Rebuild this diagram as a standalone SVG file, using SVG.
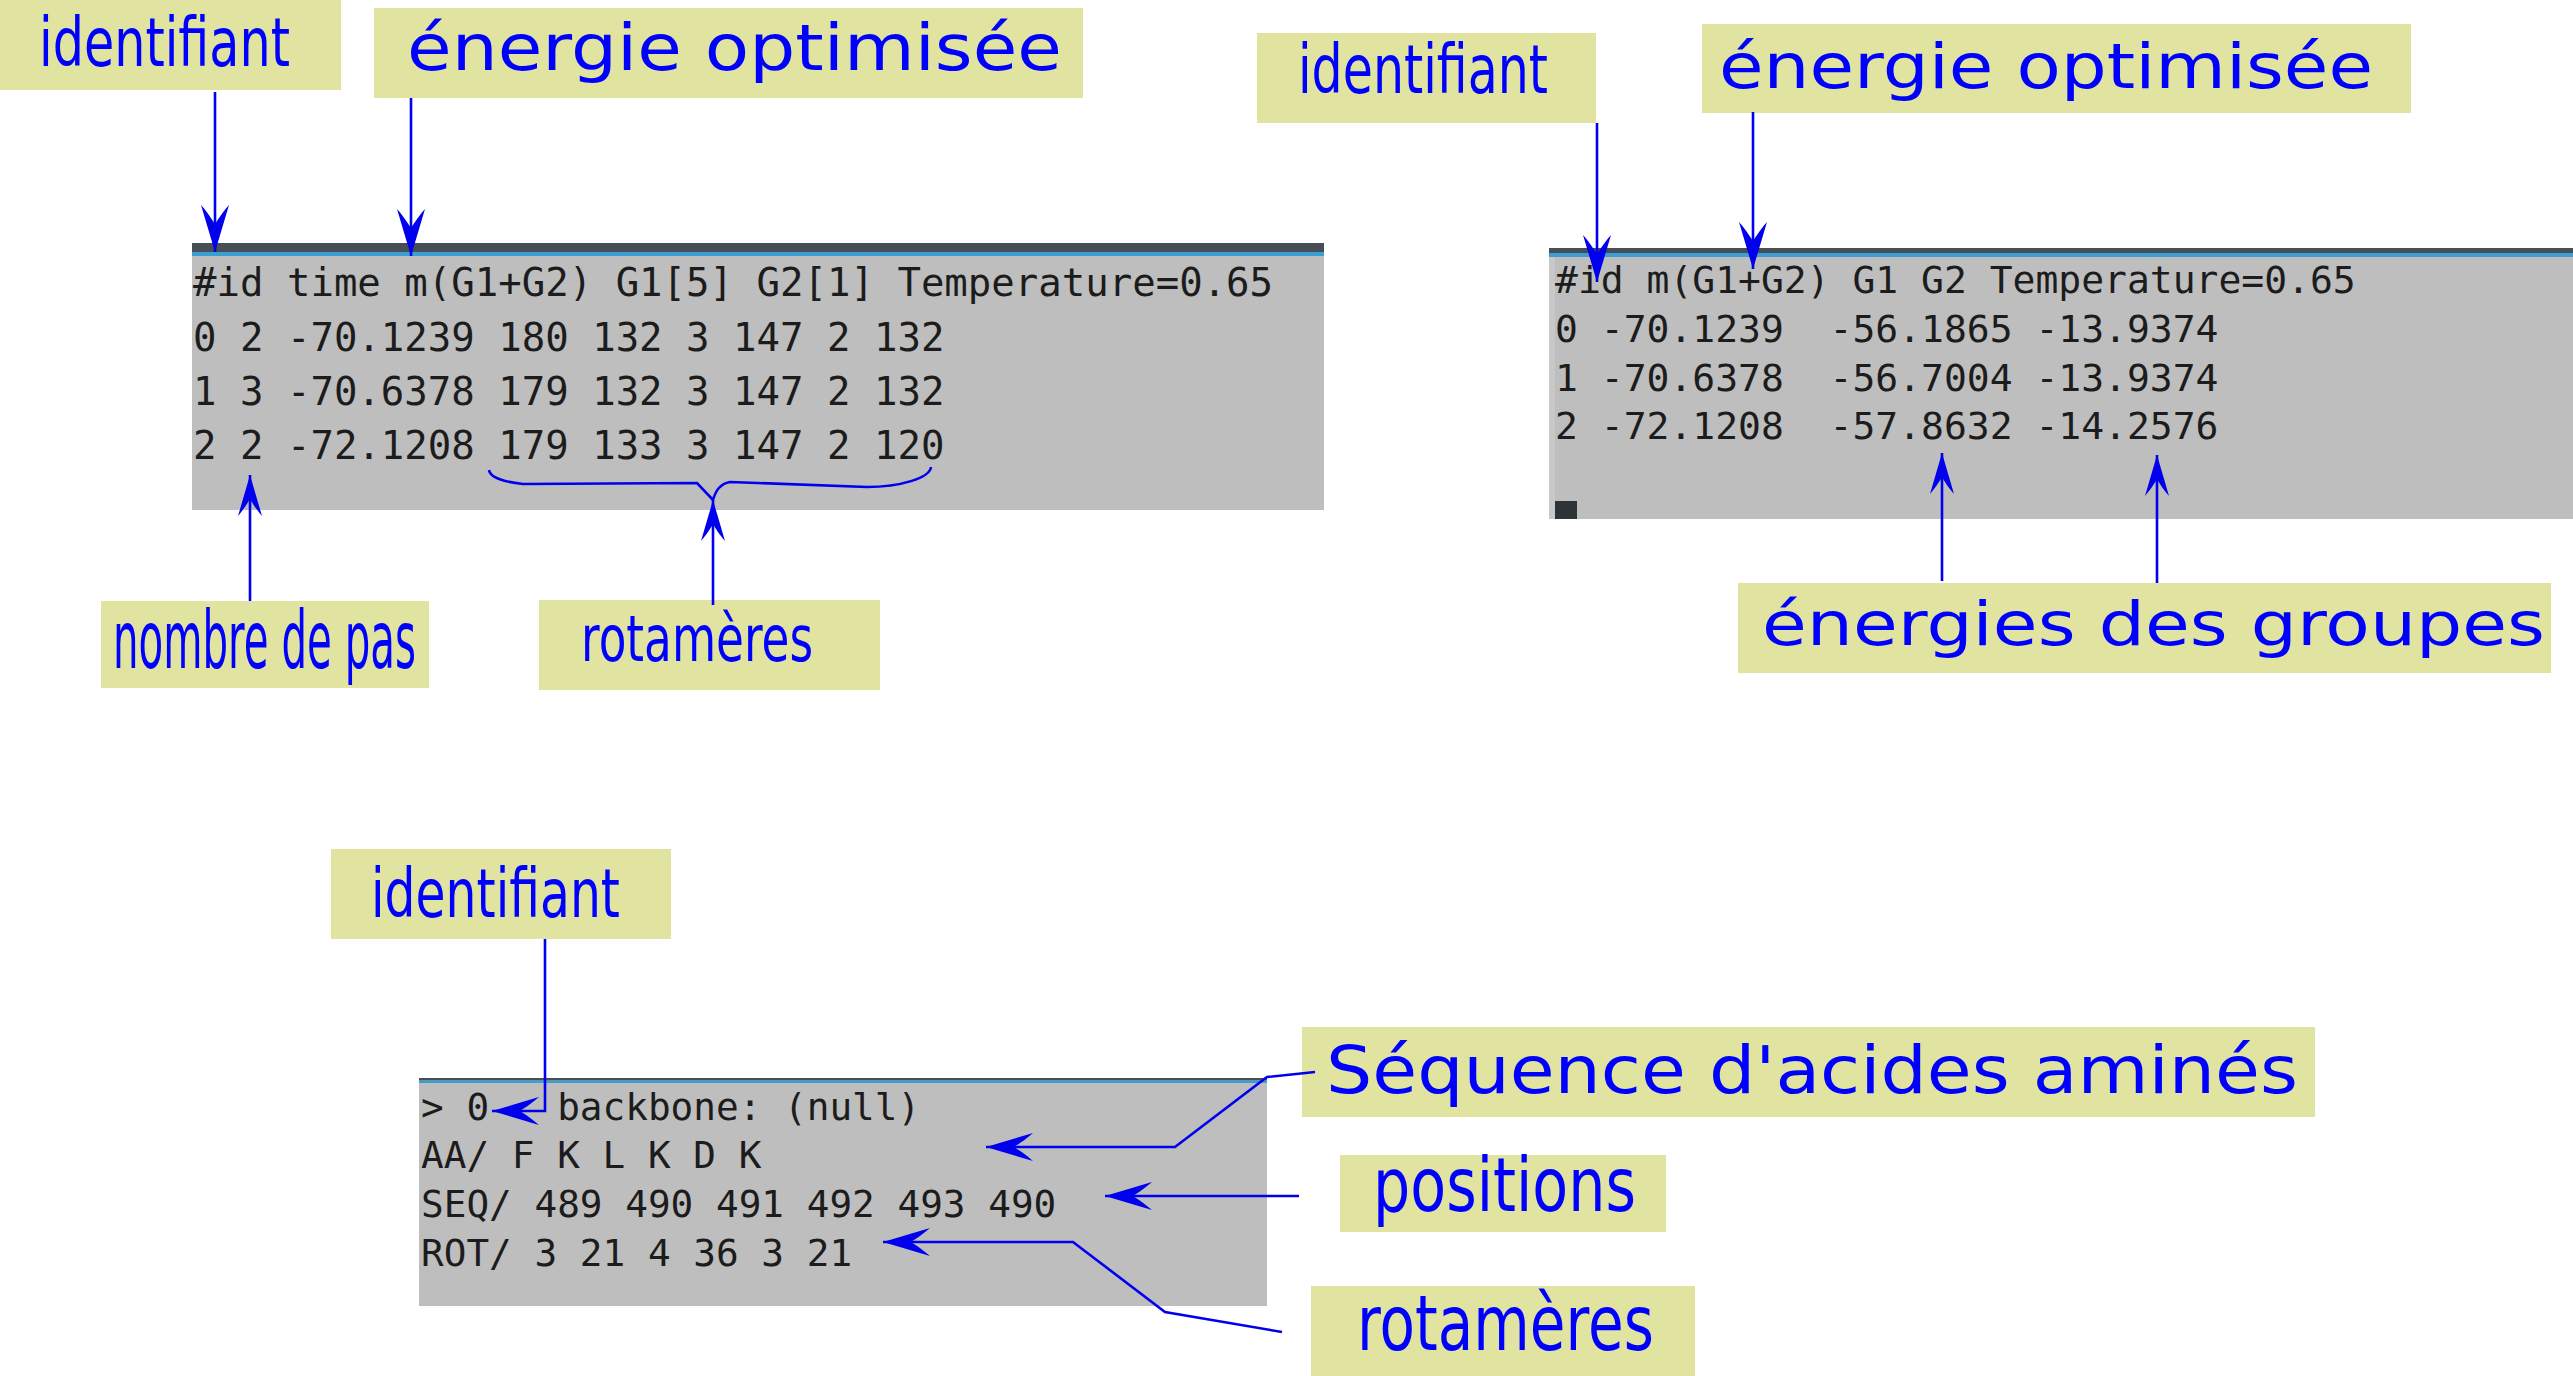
<svg xmlns="http://www.w3.org/2000/svg" width="2573" height="1376" viewBox="0 0 2573 1376">
<style>
.lab{fill:#e1e3a0}
.lt{font-family:"DejaVu Sans","Liberation Sans",sans-serif;fill:#0000ff}
.mono{font-family:"DejaVu Sans Mono","Liberation Mono",monospace;fill:#1c1c1c;white-space:pre}
.term{fill:#bebebe}
.bar{fill:#474e55}
.blu{fill:#3c9fd2}
.con{stroke:#0000ee;stroke-width:2.6;fill:none}
.big{marker-end:url(#ah)}
.sm{marker-end:url(#ahs)}
</style>
<defs>
<marker id="ah" markerUnits="userSpaceOnUse" markerWidth="60" markerHeight="40" viewBox="-55 -20 60 40" refX="0" refY="0" orient="auto" overflow="visible">
<path d="M0,0 L-47,-14 C-38,-6 -30,-1.5 -28,0 C-30,1.5 -38,6 -47,14 Z" fill="#0000ee"/>
</marker>
<marker id="ahs" markerUnits="userSpaceOnUse" markerWidth="60" markerHeight="40" viewBox="-55 -20 60 40" refX="0" refY="0" orient="auto" overflow="visible">
<path d="M0,0 L-41,-12 C-33,-5 -26,-1.3 -24,0 C-26,1.3 -33,5 -41,12 Z" fill="#0000ee"/>
</marker>
</defs>
<rect width="2573" height="1376" fill="#ffffff"/>

<g id="terminal1">
<rect class="term" x="192" y="243" width="1132" height="267"/>
<rect class="bar" x="192" y="243" width="1132" height="9"/>
<rect class="blu" x="192" y="252" width="1132" height="4"/>
<text class="mono" font-size="39" x="193" y="296">#id time m(G1+G2) G1[5] G2[1] Temperature=0.65</text>
<text class="mono" font-size="39" x="193" y="351">0 2 -70.1239 180 132 3 147 2 132</text>
<text class="mono" font-size="39" x="193" y="405">1 3 -70.6378 179 132 3 147 2 132</text>
<text class="mono" font-size="39" x="193" y="459">2 2 -72.1208 179 133 3 147 2 120</text>
</g>

<g id="terminal2">
<rect class="term" x="1549" y="248" width="1024" height="271"/>
<rect x="1549" y="257" width="6" height="262" fill="#c8c8c8"/>
<rect class="bar" x="1549" y="248" width="1024" height="5"/>
<rect class="blu" x="1549" y="253" width="1024" height="4"/>
<text class="mono" font-size="38" x="1555" y="293">#id m(G1+G2) G1 G2 Temperature=0.65</text>
<text class="mono" font-size="38" x="1555" y="342">0 -70.1239  -56.1865 -13.9374</text>
<text class="mono" font-size="38" x="1555" y="391">1 -70.6378  -56.7004 -13.9374</text>
<text class="mono" font-size="38" x="1555" y="439">2 -72.1208  -57.8632 -14.2576</text>
<rect x="1555" y="501" width="22" height="18" fill="#2e3338"/>
</g>

<g id="terminal3">
<rect class="term" x="419" y="1078" width="848" height="228"/>
<rect class="bar" x="419" y="1078" width="848" height="2.5"/>
<rect class="blu" x="419" y="1080.5" width="848" height="2.5"/>
<text class="mono" font-size="37.7" x="421" y="1120">&gt; 0   backbone: (null)</text>
<text class="mono" font-size="37.7" x="421" y="1168">AA/ F K L K D K</text>
<text class="mono" font-size="37.7" x="421" y="1217">SEQ/ 489 490 491 492 493 490</text>
<text class="mono" font-size="37.7" x="421" y="1266">ROT/ 3 21 4 36 3 21</text>
</g>

<g id="label-identifiant-1">
<rect class="lab" x="0" y="0" width="341" height="90"/>
<text class="lt" font-size="68" x="39" y="66" textLength="251" lengthAdjust="spacingAndGlyphs">identifiant</text>
</g>
<g id="label-energie-1">
<rect class="lab" x="374" y="8" width="709" height="90"/>
<text class="lt" font-size="64" x="407" y="70" textLength="655" lengthAdjust="spacingAndGlyphs">énergie optimisée</text>
</g>
<g id="label-nombre">
<rect class="lab" x="101" y="601" width="328" height="87"/>
<text class="lt" font-size="80" x="113" y="668" textLength="303" lengthAdjust="spacingAndGlyphs">nombre de pas</text>
</g>
<g id="label-rotameres-1">
<rect class="lab" x="539" y="600" width="341" height="90"/>
<text class="lt" font-size="64" x="581" y="661" textLength="232" lengthAdjust="spacingAndGlyphs">rotamères</text>
</g>
<g id="label-identifiant-2">
<rect class="lab" x="1257" y="33" width="339" height="90"/>
<text class="lt" font-size="68" x="1298" y="93" textLength="250" lengthAdjust="spacingAndGlyphs">identifiant</text>
</g>
<g id="label-energie-2">
<rect class="lab" x="1702" y="24" width="709" height="89"/>
<text class="lt" font-size="63" x="1719" y="88" textLength="654" lengthAdjust="spacingAndGlyphs">énergie optimisée</text>
</g>
<g id="label-groupes">
<rect class="lab" x="1738" y="583" width="813" height="90"/>
<text class="lt" font-size="61" x="1762" y="645" textLength="783" lengthAdjust="spacingAndGlyphs">énergies des groupes</text>
</g>
<g id="label-identifiant-3">
<rect class="lab" x="331" y="849" width="340" height="90"/>
<text class="lt" font-size="68" x="371" y="917" textLength="249" lengthAdjust="spacingAndGlyphs">identifiant</text>
</g>
<g id="label-sequence">
<rect class="lab" x="1302" y="1027" width="1013" height="90"/>
<text class="lt" font-size="66" x="1326" y="1093" textLength="972" lengthAdjust="spacingAndGlyphs">Séquence d'acides aminés</text>
</g>
<g id="label-positions">
<rect class="lab" x="1340" y="1155" width="326" height="77"/>
<text class="lt" font-size="74" x="1373" y="1211" textLength="263" lengthAdjust="spacingAndGlyphs">positions</text>
</g>
<g id="label-rotameres-2">
<rect class="lab" x="1311" y="1286" width="384" height="90"/>
<text class="lt" font-size="77" x="1357" y="1350" textLength="297" lengthAdjust="spacingAndGlyphs">rotamères</text>
</g>

<g id="connectors">
<path class="con big" d="M215,92 V252"/>
<path class="con big" d="M411,98 V256"/>
<path class="con sm" d="M250,601 V475"/>
<path class="con sm" d="M713,605 V500"/>
<path class="con" stroke-width="1.6" d="M489,470 C490,478 505,482 523,484 L697,483 L713,500 C716,490 720,484 730,482 L867,487 C900,487 930,478 931,467"/>
<path class="con big" d="M1597,123 V282"/>
<path class="con big" d="M1753,112 V269"/>
<path class="con sm" d="M1942,581 V453"/>
<path class="con sm" d="M2157,583 V455"/>
<path class="con big" d="M545,939 V1111 H492"/>
<path class="con big" d="M1315,1072 L1267,1077 L1175,1147 H986"/>
<path class="con big" d="M1299,1196 H1105"/>
<path class="con big" d="M1282,1332 L1165,1312 L1073,1242 H883"/>
</g>
</svg>
